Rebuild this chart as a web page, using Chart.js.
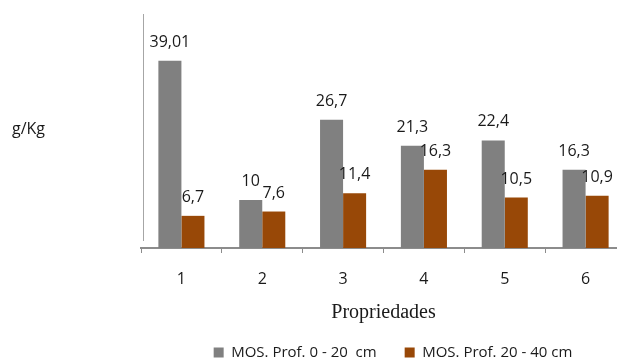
<!DOCTYPE html>
<html>
<head>
<meta charset="utf-8">
<script src="https://cdn.jsdelivr.net/npm/chart.js@4.4.0/dist/chart.umd.min.js"></script>
<style>
  html, body { margin: 0; padding: 0; background: #fff; overflow: hidden; }
  #wrap { width: 650px; height: 363px; }
</style>
</head>
<body>
<div id="wrap"><canvas id="chart" width="650" height="363"></canvas></div>
<script>
// data
const categories = ['1', '2', '3', '4', '5', '6'];
const prof0a20 = [39.01, 10, 26.7, 21.3, 22.4, 16.3];
const prof20a40 = [6.7, 7.6, 11.4, 16.3, 10.5, 10.9];
const seriesNames = ['MOS. Prof. 0 - 20  cm', 'MOS. Prof. 20 - 40 cm'];
const yUnit = 'g/Kg';
const xTitle = 'Propriedades';

const sansFont = "'Open Sans', sans-serif";
const serifFont = "'Liberation Serif', 'Times New Roman', serif";

// value labels above bars, decimal comma
const barLabels = {
  id: 'barLabels',
  afterDatasetsDraw(chart) {
    const ctx = chart.ctx;
    ctx.save();
    ctx.font = '16px ' + sansFont;
    ctx.fillStyle = '#1a1a1a';
    ctx.textAlign = 'center';
    ctx.textBaseline = 'alphabetic';
    chart.data.datasets.forEach((ds, i) => {
      chart.getDatasetMeta(i).data.forEach((bar, j) => {
        const txt = String(ds.data[j]).replace('.', ',');
        ctx.fillText(txt, bar.x, bar.y - 14);
      });
    });
    ctx.restore();
  }
};

// vertical axis line and the unit label on the left
const yAxisDecor = {
  id: 'yAxisDecor',
  afterDraw(chart) {
    const { ctx, chartArea } = chart;
    ctx.save();
    ctx.strokeStyle = '#a6a6a6';
    ctx.lineWidth = 1;
    ctx.beginPath();
    ctx.moveTo(chartArea.left + 2.5, chartArea.top + 6);
    ctx.lineTo(chartArea.left + 2.5, chartArea.bottom - 7);
    ctx.stroke();
    ctx.font = '16px ' + sansFont;
    ctx.fillStyle = '#1a1a1a';
    ctx.textAlign = 'left';
    ctx.textBaseline = 'alphabetic';
    ctx.fillText(yUnit, 12, 134);
    ctx.restore();
  }
};

new Chart(document.getElementById('chart'), {
  type: 'bar',
  data: {
    labels: categories,
    datasets: [
      { label: seriesNames[0], data: prof0a20, backgroundColor: '#808080' },
      { label: seriesNames[1], data: prof20a40, backgroundColor: '#984807' }
    ]
  },
  options: {
    responsive: false,
    animation: false,
    devicePixelRatio: 1,
    layout: { padding: { left: 141, right: 5, top: 8, bottom: -7 } },
    datasets: {
      bar: { categoryPercentage: 0.57, barPercentage: 1.0 }
    },
    scales: {
      x: {
        grid: {
          display: true,
          drawOnChartArea: false,
          offset: true,
          tickLength: 5,
          color: '#8c8c8c',
          lineWidth: 1
        },
        border: { display: true, color: '#8c8c8c', width: 2 },
        ticks: {
          color: '#1a1a1a',
          font: { family: sansFont, size: 16 },
          padding: 17
        },
        title: {
          display: true,
          text: xTitle,
          color: '#1a1a1a',
          font: { family: serifFont, size: 20 },
          padding: { top: 0, bottom: -8 }
        },
        afterFit(scale) { scale.height = 69; }
      },
      // value axis is not drawn; it sits on the right only to keep the
      // legend centred the way the original is
      y: {
        position: 'right',
        min: 0,
        max: 50,
        grid: { display: false },
        border: { display: false },
        ticks: { display: false },
        afterFit(scale) { scale.width = 19; }
      }
    },
    plugins: {
      legend: {
        position: 'bottom',
        labels: {
          boxWidth: 10,
          boxHeight: 10,
          color: '#1a1a1a',
          font: { family: sansFont, size: 15 },
          padding: 28
        }
      },
      tooltip: { enabled: false }
    }
  },
  plugins: [barLabels, yAxisDecor]
});
</script>
</body>
</html>
